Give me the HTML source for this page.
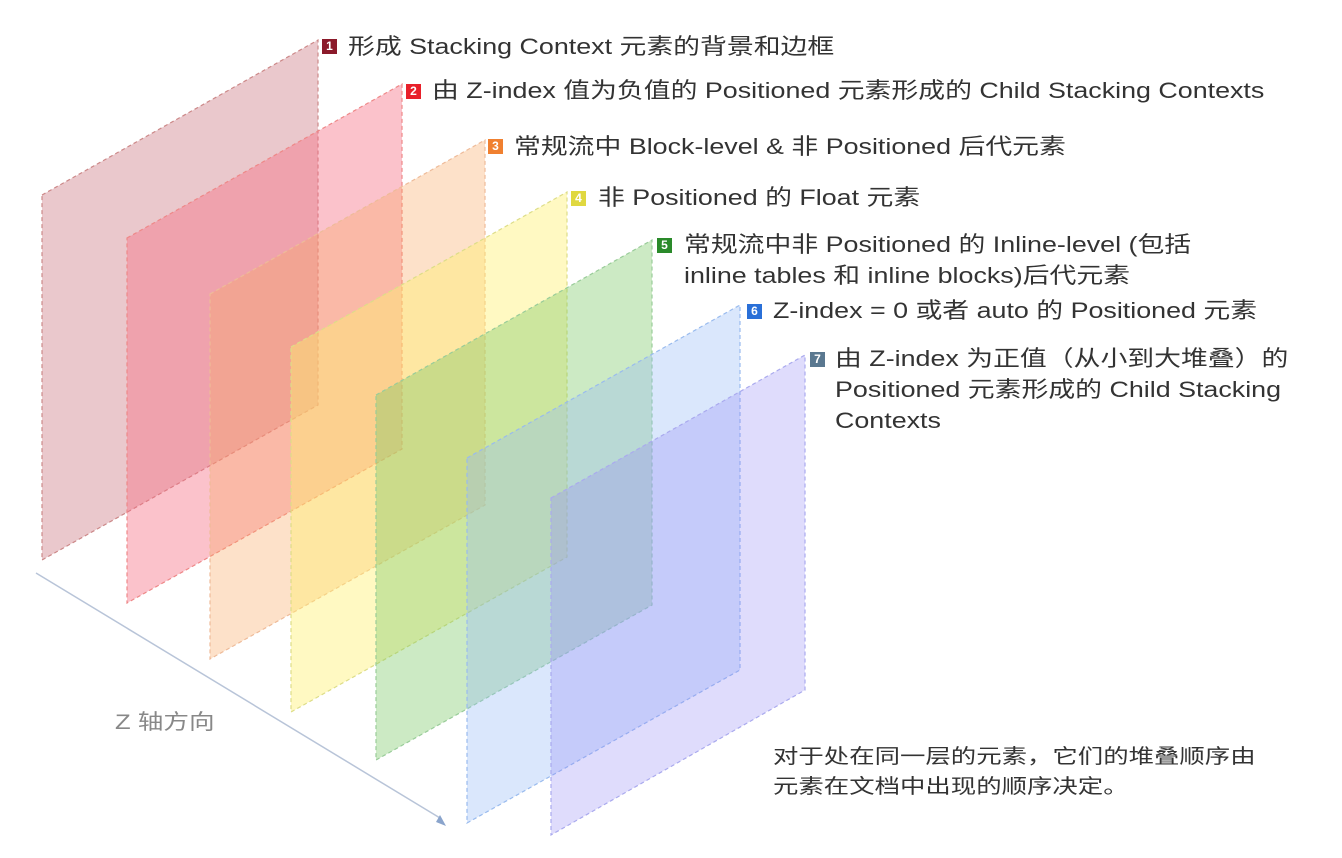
<!DOCTYPE html>
<html><head><meta charset="utf-8"><style>
body{margin:0;width:1342px;height:858px;background:#fff;overflow:hidden;position:relative;font-family:"Liberation Sans","Noto Sans CJK SC",sans-serif;}
svg{position:absolute;left:0;top:0}
.l{position:absolute;font-size:22px;color:#333;line-height:31px;white-space:nowrap;transform:scaleX(1.22);transform-origin:0 0}
.b{position:absolute;width:15px;height:15px;color:#fff;font-size:12px;font-weight:bold;text-align:center;line-height:15px}
</style></head><body>
<svg width="1342" height="858">
<g stroke-width="1.2" stroke-dasharray="4,3">
<polygon points="42,195 318,40 318,405 42,560" fill="rgba(200,110,120,0.38)" stroke="#c88"/>
<polygon points="127,238 402,84 402,449 127,603" fill="rgba(245,110,130,0.42)" stroke="#e88"/>
<polygon points="210,294 485,140 485,505 210,659" fill="rgba(250,170,100,0.35)" stroke="#eb9"/>
<polygon points="291,347 567,192 567,557 291,712" fill="rgba(255,240,110,0.42)" stroke="#dd8"/>
<polygon points="376,395 652,240 652,605 376,760" fill="rgba(120,200,100,0.38)" stroke="#9c9"/>
<polygon points="467,458 740,305 740,670 467,823" fill="rgba(150,185,245,0.35)" stroke="#9be"/>
<polygon points="551,498 805,355 805,690 551,835" fill="rgba(150,140,245,0.3)" stroke="#aae"/>
</g>
<line x1="36" y1="573" x2="440" y2="818" stroke="#b8c4d8" stroke-width="1.5"/>
<polygon points="436,822 446,826 440,815" fill="#8aa4cc"/>
</svg>
<div class="b" style="left:322px;top:39px;background:#8b1a2a">1</div><div class="l" style="left:348px;top:31px">形成 Stacking Context 元素的背景和边框</div>
<div class="b" style="left:406px;top:84px;background:#e8202a">2</div><div class="l" style="left:432px;top:75px">由 Z-index 值为负值的 Positioned 元素形成的 Child Stacking Contexts</div>
<div class="b" style="left:488px;top:139px;background:#f08030">3</div><div class="l" style="left:514px;top:131px">常规流中 Block-level &amp; 非 Positioned 后代元素</div>
<div class="b" style="left:571px;top:191px;background:#e0d840">4</div><div class="l" style="left:598px;top:182px">非 Positioned 的 Float 元素</div>
<div class="b" style="left:657px;top:238px;background:#2a8a2a">5</div><div class="l" style="left:684px;top:229px">常规流中非 Positioned 的 Inline-level (包括<br>inline tables 和 inline blocks)后代元素</div>
<div class="b" style="left:747px;top:304px;background:#2a70d8">6</div><div class="l" style="left:773px;top:295px">Z-index = 0 或者 auto 的 Positioned 元素</div>
<div class="b" style="left:810px;top:352px;background:#5a7890">7</div><div class="l" style="left:835px;top:343px">由 Z-index 为正值（从小到大堆叠）的<br>Positioned 元素形成的 Child Stacking<br>Contexts</div>
<div class="l" style="left:115px;top:707px;color:#888;font-size:21px">Z 轴方向</div>
<div class="l" style="left:773px;top:742px;font-size:20px;line-height:30px;transform:scaleX(1.27)">对于处在同一层的元素，它们的堆叠顺序由<br>元素在文档中出现的顺序决定。</div>
</body></html>
